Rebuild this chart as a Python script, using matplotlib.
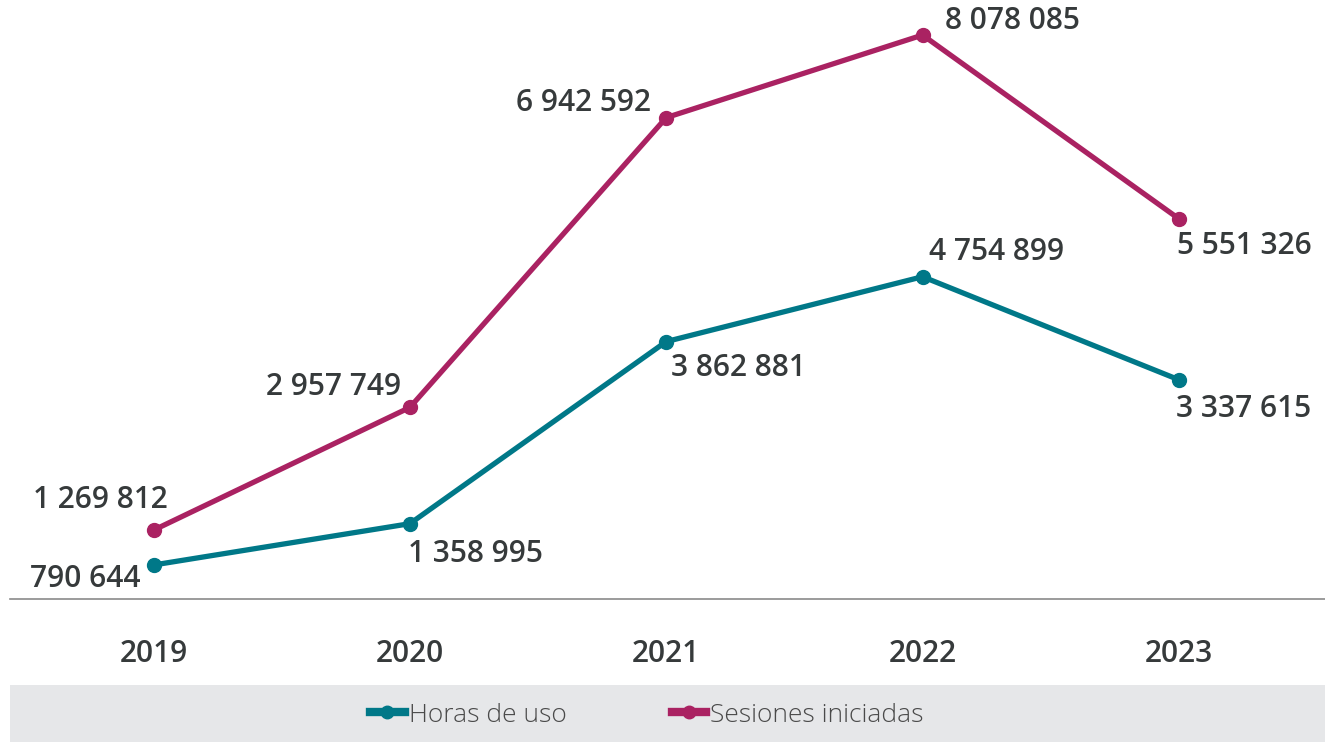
import matplotlib
matplotlib.use("Agg")
import matplotlib.pyplot as plt
from matplotlib.patches import Rectangle
from matplotlib.lines import Line2D

years = ["2019", "2020", "2021", "2022", "2023"]
horas = [790644, 1358995, 3862881, 4754899, 3337615]
sesiones = [1269812, 2957749, 6942592, 8078085, 5551326]

teal = "#007888"
magenta = "#AA2262"
txt = "#363a3b"

def fmt(v):
    return f"{v:,}".replace(",", " ")

W, H = 1325, 742
fig = plt.figure(figsize=(W/100, H/100), dpi=100)
ax = fig.add_axes([10/W, 1-599/H, 1-10/W, 599/H])

x = list(range(len(years)))
ax.plot(x, horas, color=teal, lw=3.8, marker="o", ms=10, solid_capstyle="round", zorder=3)
ax.plot(x, sesiones, color=magenta, lw=3.8, marker="o", ms=10, solid_capstyle="round", zorder=3)

ax.set_xlim(-0.56, 4.57)
ax.set_ylim(323000, 8560000)

ses_off = [(-53, 30), (-76, 20), (-83, 15), (90, 14), (65, -27)]
hor_off = [(-68, -14), (66, -30), (72, -26), (74, 25), (65, -29)]
font = dict(family=["Open Sans", "DejaVu Sans"], fontsize=21.5, fontweight="semibold", color=txt)
for i in x:
    ax.annotate(fmt(sesiones[i]), (i, sesiones[i]), xytext=ses_off[i], textcoords="offset pixels",
                ha="center", va="center", **font)
    ax.annotate(fmt(horas[i]), (i, horas[i]), xytext=hor_off[i], textcoords="offset pixels",
                ha="center", va="center", **font)

for s in ["top", "right", "left"]:
    ax.spines[s].set_visible(False)
ax.spines["bottom"].set_color("#8a8a8a")
ax.spines["bottom"].set_linewidth(1.2)
ax.set_yticks([])
ax.set_xticks(x)
ax.set_xticklabels(years, **font)
ax.tick_params(axis="x", length=0, pad=29)

fig.patches.append(Rectangle((10/W, 0), 1-10/W, 57/H, transform=fig.transFigure,
                             facecolor="#e6e7e9", edgecolor="none", zorder=0))
handles = [Line2D([], [], color=teal, lw=6, marker="o", ms=9),
           Line2D([], [], color=magenta, lw=6, marker="o", ms=9)]
fig.legend(handles, ["Horas de uso", "Sesiones iniciadas"], loc="center",
           bbox_to_anchor=(647/W, 1-715/H), ncol=2, frameon=False, handlelength=1.3,
           handletextpad=0.15, columnspacing=4.0,
           prop=dict(family=["Open Sans", "DejaVu Sans"], size=19, weight="light"),
           labelcolor="#4a4a4a")

fig.savefig("out.png", dpi=100)
